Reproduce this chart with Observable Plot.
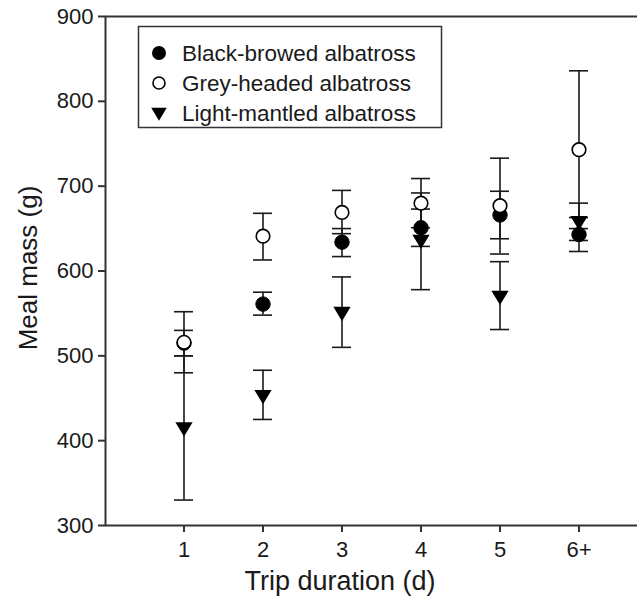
<!DOCTYPE html>
<html><head><meta charset="utf-8">
<script src="https://cdn.jsdelivr.net/npm/d3@7"></script>
<script src="https://cdn.jsdelivr.net/npm/@observablehq/plot@0.6"></script>
<style>
body{margin:0;background:#fff;overflow:hidden}
#c{width:637px;height:601px;overflow:hidden;position:relative}
#c svg{max-width:none !important;height:601px !important;width:660px !important}
</style>
</head><body><div id="c"></div>
<script>
const categories = ["1","2","3","4","5","6+"];
const yTicks = [300,400,500,600,700,800,900];
const speciesNames = ["Black-browed albatross","Grey-headed albatross","Light-mantled albatross"];

const blackMean = [515,561,634,651,666,643];
const blackLo   = [500,548,617,629,638,623];
const blackHi   = [530,575,650,673,694,663];

const greyMean  = [516,641,669,680,677,743];
const greyLo    = [480,613,644,651,620,650];
const greyHi    = [552,668,695,709,733,836];

const lightMean = [415,453,551,636,570,658];
const lightLo   = [330,425,510,578,531,636];
const lightHi   = [500,483,593,692,611,680];

const series = [
  {name: speciesNames[0], mean: blackMean, lo: blackLo, hi: blackHi},
  {name: speciesNames[1], mean: greyMean, lo: greyLo, hi: greyHi},
  {name: speciesNames[2], mean: lightMean, lo: lightLo, hi: lightHi}
];
const rows = [];
series.forEach(s => categories.forEach((c,i) => rows.push({species: s.name, day: c, mean: s.mean[i], lo: s.lo[i], hi: s.hi[i]})));

const triDown = {
  draw(ctx, size) {
    const r = Math.sqrt(size / Math.PI);
    const hw = r * 1.2;
    ctx.moveTo(-hw, -r * 0.8);
    ctx.lineTo(hw, -r * 0.8);
    ctx.lineTo(0, r * 1.2);
    ctx.closePath();
  }
};

const ink = "#1a1a1a";
const font = "Liberation Sans, Arial, Helvetica, sans-serif";

const chart = Plot.plot({
  width: 660, height: 601,
  marginLeft: 105, marginRight: 13, marginTop: 16, marginBottom: 76,
  style: {fontFamily: font, color: ink, background: "#fff"},
  x: {type: "band", domain: categories, range: [171.5, 589.5], paddingInner: 0.7625, paddingOuter: 0},
  y: {domain: [300, 900]},
  marks: [
    Plot.frame({stroke: "#333", strokeWidth: 2}),
    Plot.axisY({ticks: yTicks, tickSize: 7, tickPadding: 5, fontSize: 22, label: null, stroke: "#333", strokeWidth: 2}),
    Plot.axisX({tickSize: 7, tickPadding: 9, fontSize: 22, label: null, stroke: "#333", strokeWidth: 2}),
    Plot.ruleX(rows, {x: "day", y1: "lo", y2: "hi", stroke: ink, strokeWidth: 1.6}),
    Plot.tickY(rows, {x: "day", y: "lo", stroke: ink, strokeWidth: 1.6}),
    Plot.tickY(rows, {x: "day", y: "hi", stroke: ink, strokeWidth: 1.6}),
    Plot.dot(rows.filter(d => d.species === speciesNames[0]), {x: "day", y: "mean", r: 7.2, fill: "#000", stroke: "#000", strokeWidth: 1}),
    Plot.dot(rows.filter(d => d.species === speciesNames[1]), {x: "day", y: "mean", r: 6.8, fill: "#fff", stroke: "#000", strokeWidth: 1.6}),
    Plot.dot(rows.filter(d => d.species === speciesNames[2]), {x: "day", y: "mean", r: 7.2, symbol: triDown, fill: "#000", stroke: "none"})
  ]
});
document.getElementById("c").appendChild(chart);

const svg = d3.select(chart);
// axis titles
svg.append("text").attr("x", 340).attr("y", 590).attr("text-anchor", "middle")
  .attr("font-family", font).attr("font-size", 27).attr("fill", ink).text("Trip duration (d)");
svg.append("text").attr("transform", "translate(37,268) rotate(-90)").attr("text-anchor", "middle")
  .attr("font-family", font).attr("font-size", 26).attr("fill", ink).text("Meal mass (g)");

// legend
const lg = svg.append("g");
lg.append("rect").attr("x", 138.5).attr("y", 26.5).attr("width", 303).attr("height", 101)
  .attr("fill", "#fff").attr("stroke", "#333").attr("stroke-width", 1.5);
const ly = [53, 83, 113];
const lx = 159;
lg.append("circle").attr("cx", lx).attr("cy", ly[0]).attr("r", 7).attr("fill", "#000");
lg.append("circle").attr("cx", lx).attr("cy", ly[1]).attr("r", 6).attr("fill", "#fff").attr("stroke", "#000").attr("stroke-width", 1.6);
lg.append("path").attr("d", d3.symbol(triDown, Math.PI * 42)()).attr("transform", `translate(${lx},${ly[2]})`).attr("fill", "#000");
speciesNames.forEach((n, i) => {
  lg.append("text").attr("x", 182).attr("y", ly[i]).attr("dy", "0.36em").attr("text-anchor", "start")
    .attr("font-family", font).attr("font-size", 22.5).attr("fill", ink).text(n);
});
</script>
</body></html>
